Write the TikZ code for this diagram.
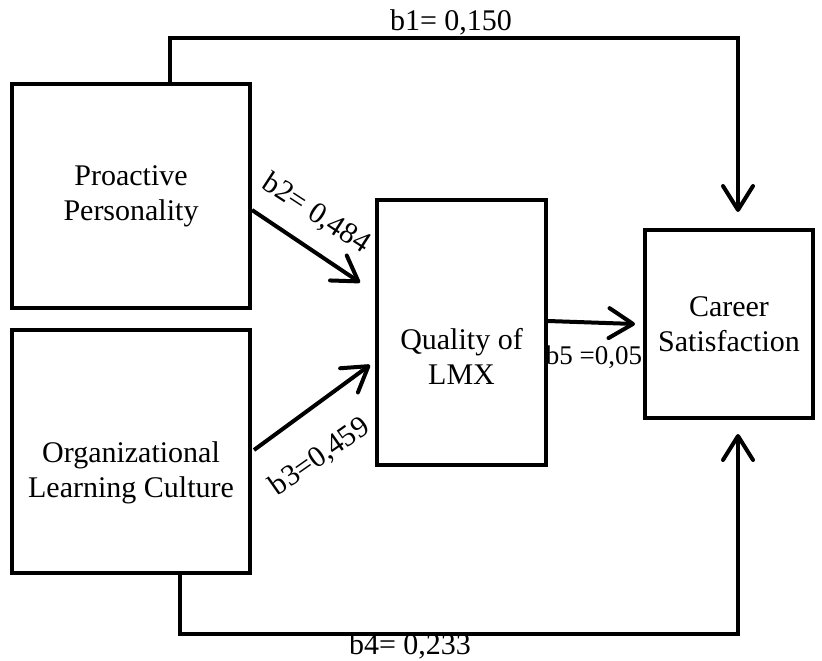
\documentclass[tikz,border=0pt]{standalone}
\usepackage{fontspec}
\setmainfont{Liberation Serif}
\usetikzlibrary{arrows.meta,calc}
\begin{document}
\begin{tikzpicture}[x=1pt,y=-1pt,
  box/.style={draw,line width=4pt,align=center,inner sep=0pt,font=\fontsize{30}{35}\selectfont},
  conn/.style={line width=4pt,-{Straight Barb[length=24pt,width=30pt,line cap=round,line join=round]}},
  lbl/.style={inner sep=0pt,font=\fontsize{30}{35}\selectfont},
  slbl/.style={inner sep=0pt,font=\fontsize{27}{32}\selectfont}]
\useasboundingbox (0,0) rectangle (822,661);
\node[box,minimum width=238pt,minimum height=224pt] (pp) at (131,196) {Proactive\\Personality};
\node[box,minimum width=238pt,minimum height=243pt] (olc) at (131,451.5) {\rule{0pt}{64pt}Organizational\\Learning Culture};
\node[box,minimum width=169pt,minimum height=265pt] (lmx) at (461.5,332.5) {\rule{0pt}{68pt}Quality of\\LMX};
\node[box,minimum width=168pt,minimum height=188pt] (cs) at (729,324) {Career\\Satisfaction};
\coordinate (b1s) at ($(pp.north west)+(160,0)$);
\coordinate (b1e) at ($(cs.north)+(9,-16)$);
\coordinate (b4s) at ($(olc.south west)+(170,0)$);
\coordinate (b4e) at ($(cs.south)+(9,14)$);
\draw[conn] (b1s) -- ($(b1s)+(0,-44)$) -| (b1e);
\draw[conn] (b4s) -- ($(b4s)+(0,59)$) -| (b4e);
\draw[conn] ($(pp.east)+(0,14)$) -- ($(lmx.west)+(-15,-50)$);
\draw[conn] ($(olc.east)+(2,-1.5)$) -- ($(lmx.west)+(-5,32.5)$);
\draw[conn] ($(lmx.east)+(0,-11.5)$) -- ($(cs.west)+(-8,0)$);
\node[lbl,anchor=base] (l1) at (451,31) {b1= 0,150};
\node[lbl,anchor=base] (l4) at (410,654) {b4= 0,233};
\node[lbl,rotate=-33] (l2) at (316,214) {b2= 0,484};
\node[lbl,rotate=35] (l3) at (320,457) {b3=0,459};
\node[slbl,anchor=base] (l5) at (594,364) {b5 =0,05};
\end{tikzpicture}
\end{document}
